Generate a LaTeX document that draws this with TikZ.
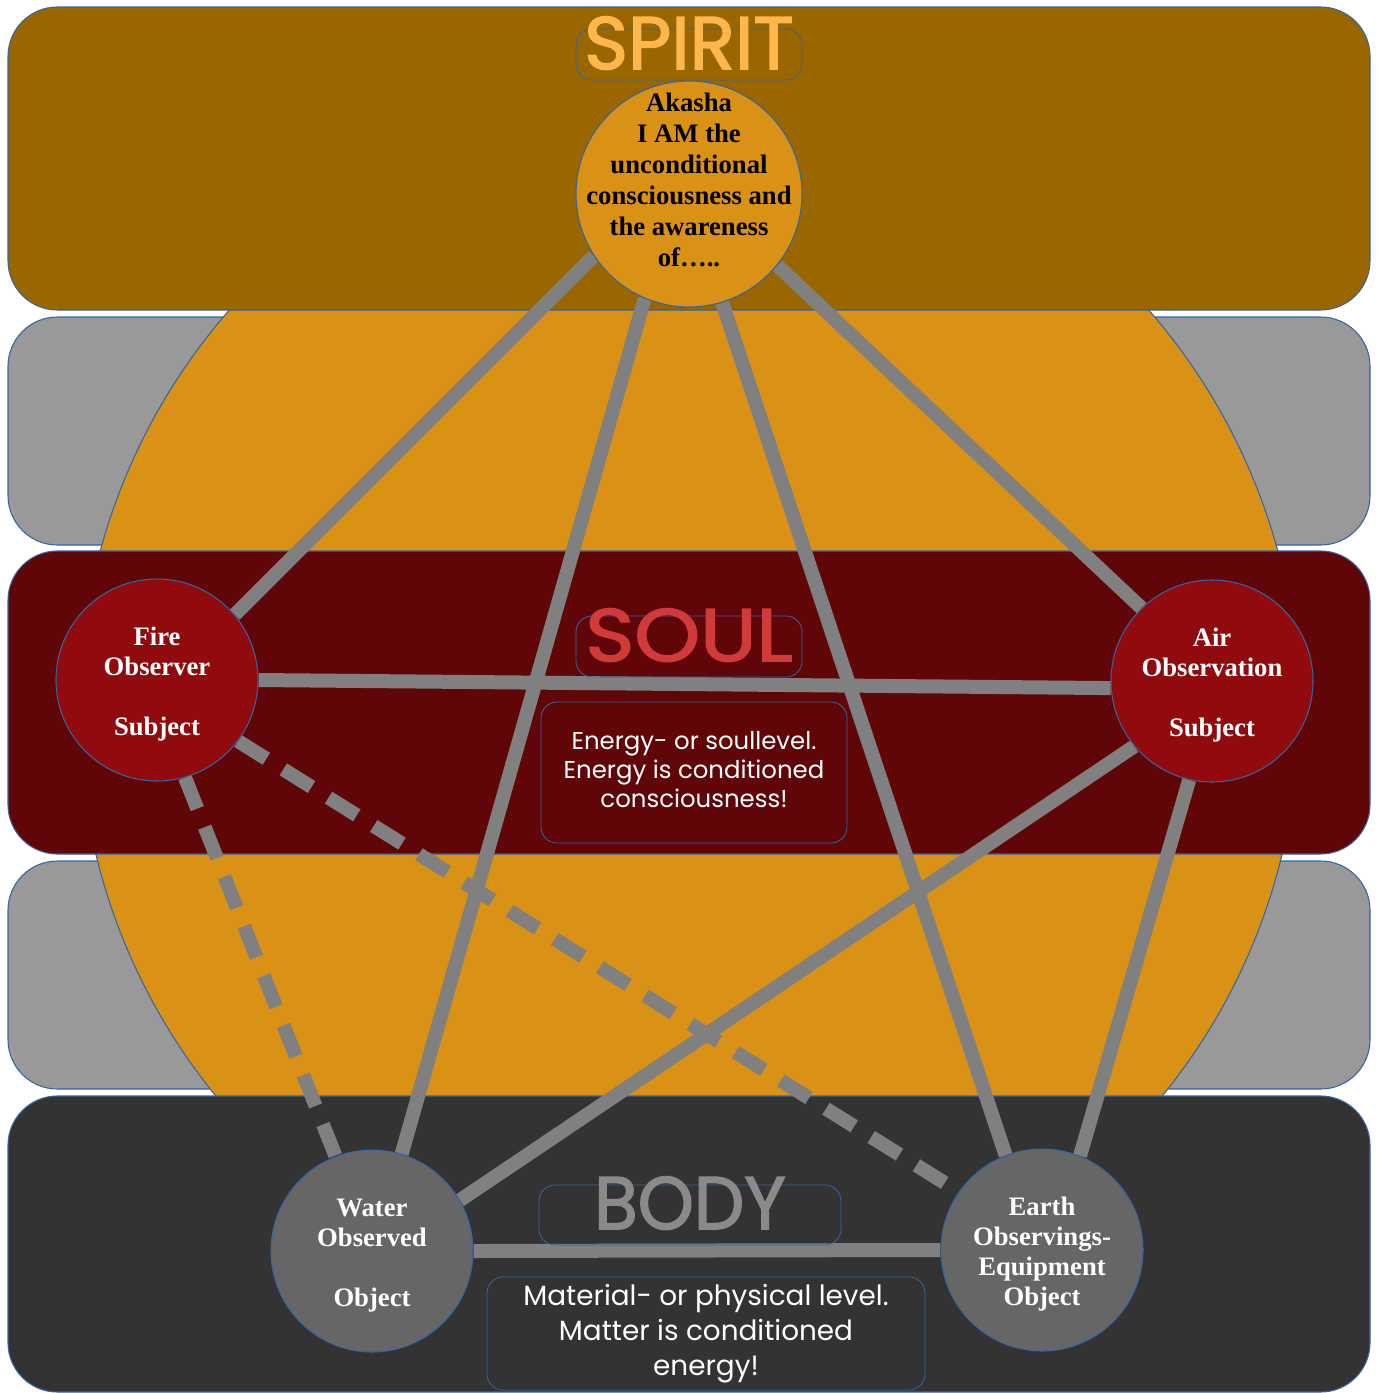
\documentclass[tikz,border=0pt]{standalone}
\usepackage{fontspec}
\setmainfont{Liberation Serif}
\newfontfamily\handfont{Poppins}
\newfontfamily\titlefont[FakeBold=2]{Poppins}
\usetikzlibrary{arrows.meta}
\definecolor{spiritbrown}{HTML}{996600}
\definecolor{bandgray}{HTML}{999999}
\definecolor{soulred}{HTML}{600508}
\definecolor{bodygray}{HTML}{333333}
\definecolor{sunorange}{HTML}{D99116}
\definecolor{firered}{HTML}{910A0E}
\definecolor{stonegray}{HTML}{666666}
\definecolor{rimblue}{HTML}{3465A4}
\definecolor{linkgray}{HTML}{808080}
\definecolor{spirittext}{HTML}{FFB64A}
\definecolor{soultext}{HTML}{D03A3A}
\definecolor{bodytext}{HTML}{8A8A8A}
\pgfdeclarelayer{back}
\pgfdeclarelayer{mid}
\pgfsetlayers{back,mid,main}
\tikzset{
  band/.style={draw=rimblue, line width=0.8pt, rounded corners=37pt},
  element/.style={circle, draw=rimblue, line width=0.8pt, minimum size=151.5pt, inner sep=-40pt,
    align=center, text=white, font=\bfseries\fontsize{20}{22.5}\selectfont},
  link/.style={linkgray, line width=10.5pt},
  dlink/.style={link, dash pattern=on 25pt off 15pt},
  tag/.style={draw=rimblue, line width=0.6pt, rounded corners=12pt, inner sep=0pt},
  title/.style={font=\titlefont\fontsize{56}{56}\selectfont, inner sep=0pt, anchor=base, text depth=0pt},
  note/.style={tag, align=center, text=white}
}

\begin{document}
\begin{tikzpicture}[x=0.75pt, y=-0.75pt]
\useasboundingbox (0,0) rectangle (1378,1393);
\begin{pgfonlayer}{back}
\foreach \y in {317,861}
\draw[band, fill=bandgray] (8,\y) rectangle (1370,\y+228);
\draw[draw=rimblue, line width=0.8pt, fill=sunorange] (689,711) circle (610);
\draw[band, fill=spiritbrown] (8,7) rectangle (1370,310);
\draw[band, fill=soulred] (8,551) rectangle (1370,854);
\draw[band, fill=bodygray] (8,1096) rectangle (1370,1392);
\end{pgfonlayer}

\node[element, fill=sunorange, text=black, minimum size=169.5pt, font=\bfseries\fontsize{20}{23.25}\selectfont] (akasha) at (689,194)
  {Akasha\\I AM the\\unconditional\\consciousness and\\the awareness\\of…..\rule[-21pt]{0pt}{0pt}};
\node[element, fill=firered] (fire) at (157,680) {\rule{0pt}{20pt}Fire\\Observer\\[22.5pt]Subject};
\node[element, fill=firered] (air) at (1212,681) {\rule{0pt}{20pt}Air\\Observation\\[22.5pt]Subject};
\node[element, fill=stonegray] (water) at (372,1251) {\rule{0pt}{20pt}Water\\Observed\\[22.5pt]Object};
\node[element, fill=stonegray] (earth) at (1042,1250) {\rule{0pt}{20pt}Earth\\Observings-\\Equipment\\Object};

\begin{pgfonlayer}{mid}
\foreach \a/\b in {akasha.213/fire.40, akasha.247/water.73, akasha.287/earth.111, akasha.321/air.134,
  fire.0/air.184, air.220/water.30, air.257/earth.68, water.0/earth.180}
\draw[link] (\a) -- (\b);
\foreach \a/\b in {fire.286/water.111, fire.323/earth.145}
\draw[dlink] (\a) -- (\b);
\end{pgfonlayer}

\node[tag, minimum width=169.5pt, minimum height=38.25pt] (spiritbox) at (689,54.5) {};
\node[title, text=spirittext] (spiritlabel) at ([yshift=-11pt]spiritbox.center) {SPIRIT};
\node[tag, minimum width=169.5pt, minimum height=45.75pt] (soulbox) at (689,646.5) {};
\node[title, text=soultext] (soullabel) at ([yshift=-11pt]soulbox.center) {\scalebox{1.12}[1]{SOUL}};
\node[tag, minimum width=226.5pt, minimum height=45pt] (bodybox) at (690,1215) {};
\node[title, text=bodytext] (bodylabel) at ([yshift=-10.6pt]bodybox.center) {\scalebox{0.955}[1]{BODY}};
\node[note, minimum width=229.5pt, minimum height=105.75pt, font=\handfont\fontsize{18.3}{21.75}\selectfont] (soulnote) at (694,772.5)
  {Energy- or soullevel.\\Energy is conditioned\\consciousness!\rule[-4pt]{0pt}{0pt}};
\node[note, minimum width=328.5pt, minimum height=84.75pt, font=\handfont\fontsize{20.9}{26.25}\selectfont] (bodynote) at (706,1333.5)
  {Material- or physical level.\\Matter is conditioned\\energy!};
\end{tikzpicture}
\end{document}
